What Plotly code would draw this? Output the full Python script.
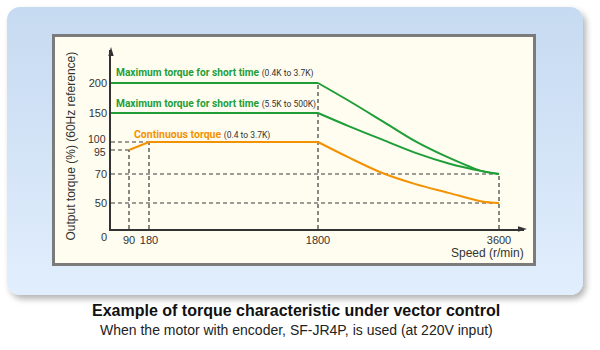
import base64
import numpy as np
import plotly.graph_objects as go

# ---------------- data ----------------
speed_ticks = [90, 180, 1800, 3600]
speed_tick_labels = ["90", "180", "1800", "3600"]
torque_ticks = [50, 70, 150, 200]
torque_tick_labels = ["50", "70", "150", "200"]
# close-together ticks whose labels are nudged apart (as in the reference)
torque_tight_ticks = [95, 100]
torque_tight_labels = ["95", "100"]

speed_max = [0, 1800, 2110, 2440, 2770, 3100, 3430, 3600]
torque_max_small = [200, 200, 170, 136, 101, 87, 73, 70]   # 0.4K to 3.7K
torque_max_large = [150, 150, 127, 104, 92, 81, 73, 70]    # 5.5K to 500K

speed_cont = [90, 180, 1800, 2110, 2440, 2770, 3100, 3430, 3600]
torque_cont = [95, 100, 100, 87, 71, 63, 57, 51, 50]

# reference points that get dashed guide lines: (speed, torque, draw_h, draw_v)
guide_points = [(90, 95, True, True), (180, 100, True, True), (1800, 200, False, True),
                (3600, 70, True, True), (3600, 50, True, False)]

series_labels = [
    ("Maximum torque for short time", "(0.4K to 3.7K)"),
    ("Maximum torque for short time", "(5.5K to 500K)"),
    ("Continuous torque", "(0.4 to 3.7K)"),
]
title_main = "Example of torque characteristic under vector control"
title_sub = "When the motor with encoder, SF-JR4P, is used (at 220V input)"

# ---------------- schematic (non-linear) axis scales ----------------
X_BREAKS = [0, 90, 180, 1800, 3600]
X_POS = [0, 18, 38, 207, 388]
Y_BREAKS = [0, 50, 70, 95, 100, 150, 200]
Y_POS = [0, 26, 55, 79, 87, 116, 146]


def xs(v):
    return np.interp(v, X_BREAKS, X_POS)


def ys(v):
    return np.interp(v, Y_BREAKS, Y_POS)


# ---------------- layout geometry ----------------
W, H = 600, 350
L, R, T, B = 111, 76, 50, 121
PW, PH = W - L - R, H - T - B


def px(xp):
    return (xp - L) / PW


def py(yp):
    return (H - B - yp) / PH


GREEN = "#1f9e38"
ORANGE = "#f39200"
DARK = "#333333"
COND = "Roboto, Liberation Sans, sans-serif"
SANS = "Liberation Sans, Arial, Helvetica, sans-serif"

fig = go.Figure()

# dashed guide lines
for s, t, dh, dv in guide_points:
    if dh:
        fig.add_trace(go.Scatter(x=xs([0, s]), y=ys([t, t]), mode="lines",
                                 line=dict(color="#3a3a3a", width=1.2, dash="4px,3px"),
                                 hoverinfo="skip"))
    if dv:
        fig.add_trace(go.Scatter(x=xs([s, s]), y=ys([0, t]), mode="lines",
                                 line=dict(color="#3a3a3a", width=1.2, dash="4px,3px"),
                                 hoverinfo="skip"))


def add_series(sp, tq, knee, color):
    sp = np.array(sp)
    tq = np.array(tq)
    fig.add_trace(go.Scatter(x=xs(sp[:knee + 1]), y=ys(tq[:knee + 1]), mode="lines",
                             line=dict(color=color, width=2), hoverinfo="skip"))
    fig.add_trace(go.Scatter(x=xs(sp[knee:]), y=ys(tq[knee:]), mode="lines",
                             line=dict(color=color, width=2, shape="spline", smoothing=0.9),
                             hoverinfo="skip"))


add_series(speed_max, torque_max_small, 1, GREEN)
add_series(speed_max, torque_max_large, 1, GREEN)
add_series(speed_cont, torque_cont, 2, ORANGE)

# background panel (rounded gradient box + cream chart box) as an SVG image
svg = f"""<svg xmlns="http://www.w3.org/2000/svg" width="{W}" height="{H}" viewBox="0 0 {W} {H}">
<defs>
<linearGradient id="g" x1="0" y1="0" x2="0" y2="1">
<stop offset="0" stop-color="#c6daf1"/><stop offset="1" stop-color="#e1eefd"/></linearGradient>
<filter id="s" x="-5%" y="-5%" width="115%" height="120%">
<feGaussianBlur in="SourceAlpha" stdDeviation="3"/><feOffset dx="3" dy="4"/>
<feComponentTransfer><feFuncA type="linear" slope="0.3"/></feComponentTransfer>
<feMerge><feMergeNode/><feMergeNode in="SourceGraphic"/></feMerge></filter>
</defs>
<rect x="7" y="7" width="576" height="288" rx="13" ry="13" fill="url(#g)" filter="url(#s)"/>
<rect x="53.5" y="35.5" width="481" height="229" fill="#fffdf0" stroke="#7b7b7b" stroke-width="3"/>
</svg>"""
src = "data:image/svg+xml;base64," + base64.b64encode(svg.encode()).decode()
fig.add_layout_image(dict(source=src, xref="paper", yref="paper", x=px(0), y=py(0),
                          sizex=W / PW, sizey=H / PH, xanchor="left", yanchor="top",
                          sizing="stretch", layer="below"))

# arrowheads on the axes
fig.add_shape(type="path", xref="paper", yref="paper",
              path=f"M {px(111)},{py(47)} L {px(108.3)},{py(56)} L {px(113.7)},{py(56)} Z",
              fillcolor=DARK, line=dict(width=0))
fig.add_shape(type="path", xref="paper", yref="paper",
              path=f"M {px(527)},{py(229)} L {px(518)},{py(226.3)} L {px(518)},{py(231.7)} Z",
              fillcolor=DARK, line=dict(width=0))

ann = []


def text(xp, yp, t, size, color=DARK, family=SANS, xanchor="left", angle=0):
    ann.append(dict(x=px(xp), y=py(yp), xref="paper", yref="paper", text=t, showarrow=False,
                    xanchor=xanchor, yanchor="middle", textangle=angle,
                    font=dict(size=size, color=color, family=family)))


def series_label(main, detail):
    return (f"<b>{main}</b> "
            f"<span style='font-size:8.5px;color:#333333'>{detail}</span>")


text(114, 73, series_label(*series_labels[0]), 10.2, GREEN, COND)
text(114, 104, series_label(*series_labels[1]), 10.2, GREEN, COND)
text(132, 134, series_label(*series_labels[2]), 10.5, ORANGE, COND)
text(70.5, 146, "Output torque (%) (60Hz reference)", 12, DARK, SANS, "center", -90)
text(104, 237, "0", 11, DARK, SANS, "center")
text(487, 253, "Speed (r/min)", 12, DARK, SANS, "center")
text(296, 310, f"<b>{title_main}</b>", 16, "#111111", SANS, "center")
text(296, 330, title_sub, 14, "#222222", SANS, "center")

# tick labels for the two tight ticks, nudged apart like the reference
for val, lab, shift in zip(torque_tight_ticks, torque_tight_labels, [-2, 3]):
    ann.append(dict(x=0, y=float(ys(val)), xref="paper", yref="y", text=lab, showarrow=False,
                    xanchor="right", yanchor="middle", xshift=-3, yshift=shift,
                    font=dict(size=10.5, color=DARK, family=SANS)))

fig.update_layout(
    width=W, height=H, margin=dict(l=L, r=R, t=T, b=B, pad=0),
    paper_bgcolor="white", plot_bgcolor="rgba(0,0,0,0)", showlegend=False,
    annotations=ann,
    xaxis=dict(range=[0, PW], tickvals=list(xs(speed_ticks)), ticktext=speed_tick_labels,
               showline=True, linecolor=DARK, linewidth=1.5, ticks="", showgrid=False,
               zeroline=False, tickfont=dict(size=11, color=DARK, family=SANS), fixedrange=True),
    yaxis=dict(range=[0, PH], tickvals=list(ys(torque_ticks)), ticktext=torque_tick_labels,
               showline=True, linecolor=DARK, linewidth=1.5, ticks="", showgrid=False,
               zeroline=False, tickfont=dict(size=11, color=DARK, family=SANS), fixedrange=True),
)

fig.write_html("out.html")
